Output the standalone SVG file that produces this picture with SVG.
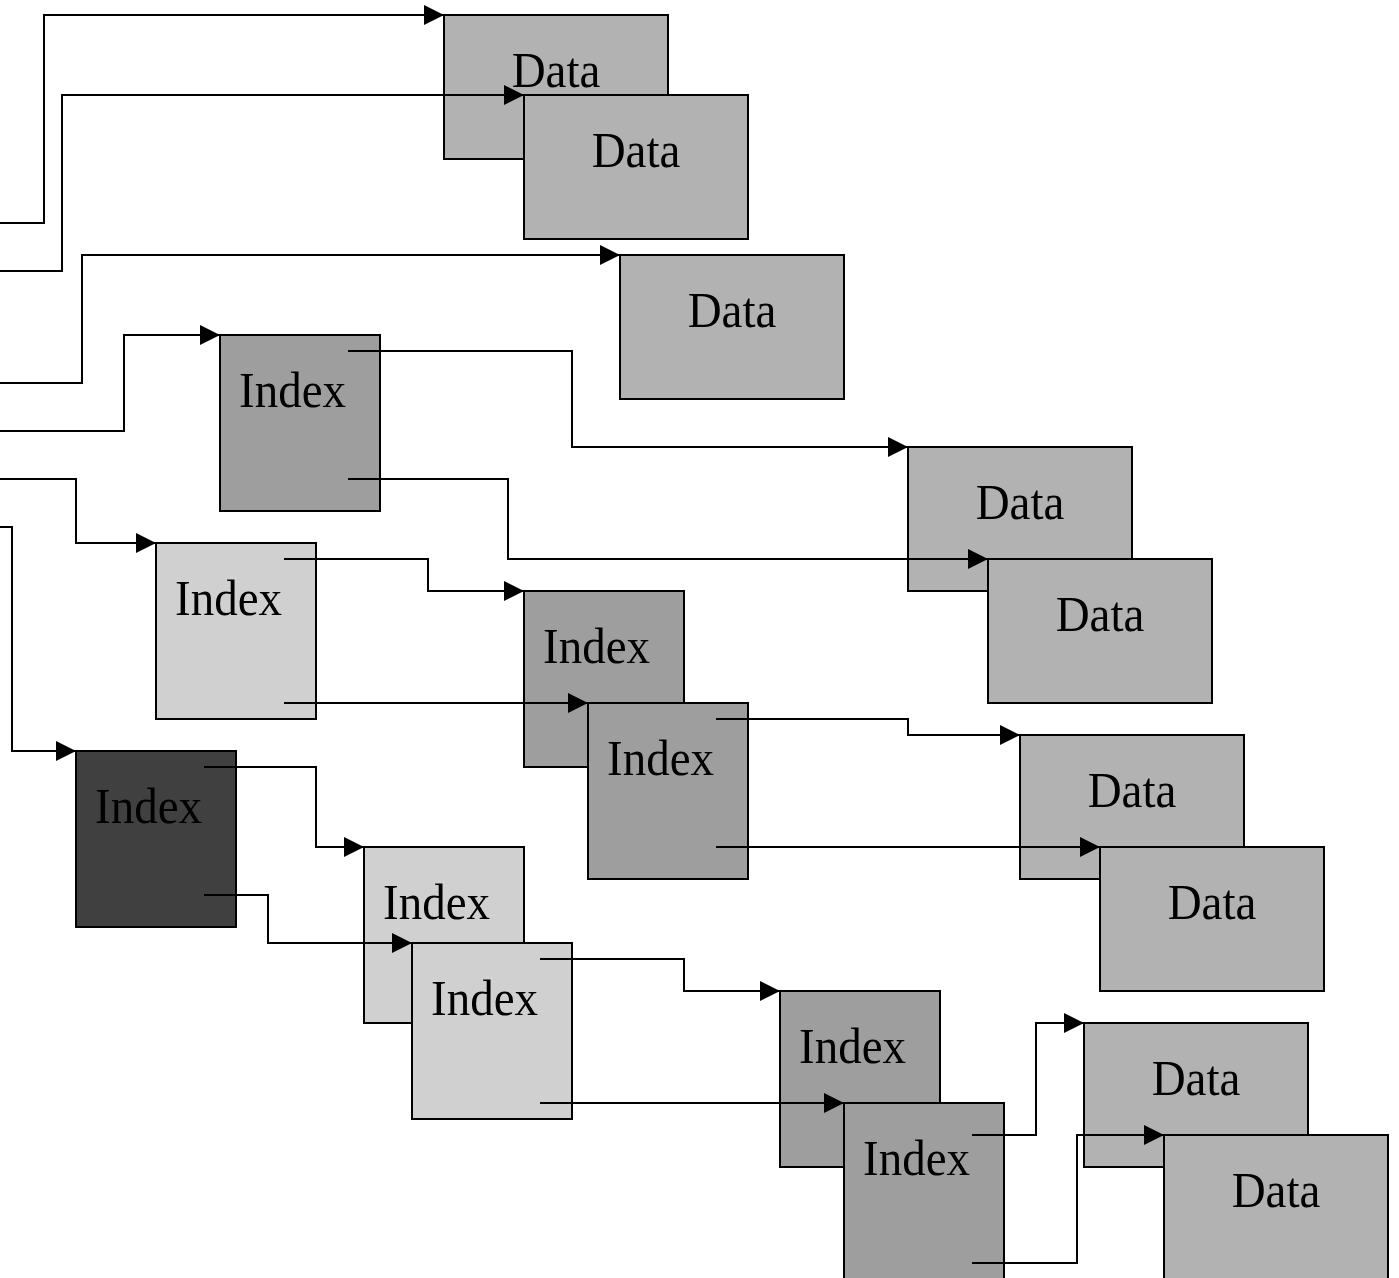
<svg xmlns="http://www.w3.org/2000/svg" width="1399" height="1278" viewBox="0 0 1399 1278">
<style>
  .box { stroke: #000; stroke-width: 2; }
  .data { fill: #b2b2b2; }
  .idx { fill: #9e9e9e; }
  .light { fill: #d0d0d0; }
  .dark { fill: #404040; }
  text { font-family: "Liberation Serif", "Times New Roman", serif; font-size: 47px; fill: #000; }
  .c { text-anchor: middle; }
  .conn polyline { fill: none; stroke: #000; stroke-width: 2; marker-end: url(#arr); }
  .conn polyline.plain { marker-end: none; }
</style>
<defs>
  <marker id="arr" markerUnits="userSpaceOnUse" markerWidth="20" markerHeight="20" refX="20" refY="10" orient="auto">
    <path d="M0,0 L20,10 L0,20 Z" fill="#000"/>
  </marker>
</defs>
<rect width="1399" height="1278" fill="#fff"/>
<g id="nodes">
  <g id="d1"><rect class="box data" x="444" y="15" width="224" height="144"/><text class="c" transform="translate(556,87) scale(1,1.07)">Data</text></g>
  <g id="d2"><rect class="box data" x="524" y="95" width="224" height="144"/><text class="c" transform="translate(636,167) scale(1,1.07)">Data</text></g>
  <g id="d3"><rect class="box data" x="620" y="255" width="224" height="144"/><text class="c" transform="translate(732,327) scale(1,1.07)">Data</text></g>
  <g id="i1"><rect class="box idx" x="220" y="335" width="160" height="176"/><text transform="translate(239,407) scale(1,1.07)">Index</text></g>
  <g id="d4"><rect class="box data" x="908" y="447" width="224" height="144"/><text class="c" transform="translate(1020,519) scale(1,1.07)">Data</text></g>
  <g id="d5"><rect class="box data" x="988" y="559" width="224" height="144"/><text class="c" transform="translate(1100,631) scale(1,1.07)">Data</text></g>
  <g id="i2"><rect class="box light" x="156" y="543" width="160" height="176"/><text transform="translate(175,615) scale(1,1.07)">Index</text></g>
  <g id="i3"><rect class="box idx" x="524" y="591" width="160" height="176"/><text transform="translate(543,663) scale(1,1.07)">Index</text></g>
  <g id="i4"><rect class="box idx" x="588" y="703" width="160" height="176"/><text transform="translate(607,775) scale(1,1.07)">Index</text></g>
  <g id="d6"><rect class="box data" x="1020" y="735" width="224" height="144"/><text class="c" transform="translate(1132,807) scale(1,1.07)">Data</text></g>
  <g id="d7"><rect class="box data" x="1100" y="847" width="224" height="144"/><text class="c" transform="translate(1212,919) scale(1,1.07)">Data</text></g>
  <g id="i5"><rect class="box dark" x="76" y="751" width="160" height="176"/><text transform="translate(95,823) scale(1,1.07)">Index</text></g>
  <g id="i6"><rect class="box light" x="364" y="847" width="160" height="176"/><text transform="translate(383,919) scale(1,1.07)">Index</text></g>
  <g id="i7"><rect class="box light" x="412" y="943" width="160" height="176"/><text transform="translate(431,1015) scale(1,1.07)">Index</text></g>
  <g id="i8"><rect class="box idx" x="780" y="991" width="160" height="176"/><text transform="translate(799,1063) scale(1,1.07)">Index</text></g>
  <g id="i9"><rect class="box idx" x="844" y="1103" width="160" height="180"/><text transform="translate(863,1175) scale(1,1.07)">Index</text></g>
  <g id="d8"><rect class="box data" x="1084" y="1023" width="224" height="144"/><text class="c" transform="translate(1196,1095) scale(1,1.07)">Data</text></g>
  <g id="d9"><rect class="box data" x="1164" y="1135" width="224" height="148"/><text class="c" transform="translate(1276,1207) scale(1,1.07)">Data</text></g>
</g>
<g id="connectors" class="conn">
  <polyline points="0,223 44,223 44,15 444,15"/>
  <polyline points="0,271 62,271 62,95 524,95"/>
  <polyline points="0,383 82,383 82,255 620,255"/>
  <polyline points="0,431 124,431 124,335 220,335"/>
  <polyline points="0,479 76,479 76,543 156,543"/>
  <polyline points="0,527 12,527 12,751 76,751"/>
  <polyline points="348,351 572,351 572,447 908,447"/>
  <polyline points="348,479 508,479 508,559 988,559"/>
  <polyline points="284,559 428,559 428,591 524,591"/>
  <polyline points="284,703 588,703"/>
  <polyline points="716,719 908,719 908,735 1020,735"/>
  <polyline points="716,847 1100,847"/>
  <polyline points="204,767 316,767 316,847 364,847"/>
  <polyline points="204,895 268,895 268,943 412,943"/>
  <polyline points="540,959 684,959 684,991 780,991"/>
  <polyline points="540,1103 844,1103"/>
  <polyline points="972,1135 1036,1135 1036,1023 1084,1023"/>
  <polyline points="972,1263 1077,1263 1077,1135 1164,1135"/>
</g>
</svg>
